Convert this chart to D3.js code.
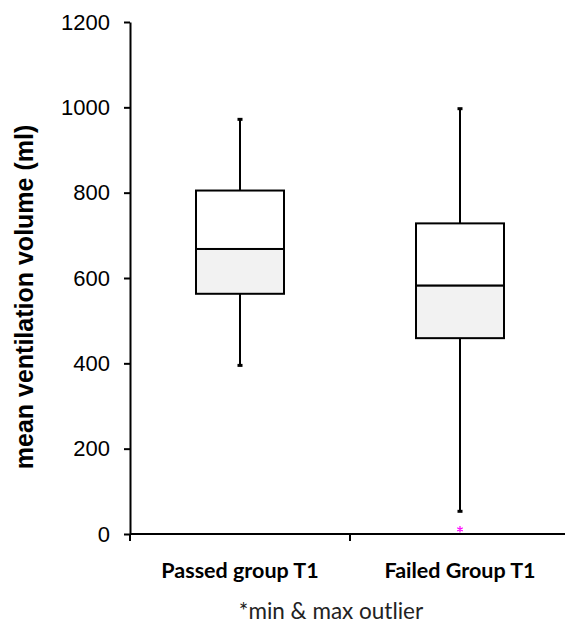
<!DOCTYPE html>
<html>
<head>
<meta charset="utf-8">
<style>
  * { margin: 0; padding: 0; }
  body { background: #fff; }
  svg { display: block; }
</style>
</head>
<body>
<div id="chart"></div>
<script src="https://cdn.jsdelivr.net/npm/d3@7"></script>
<script>
// box plot data
const groups = ['Passed group T1', 'Failed Group T1'];
const whiskerMin = [394, 52];
const q1 = [563, 459];
const median = [668, 582];
const q3 = [805, 728];
const whiskerMax = [973, 998];
const outliers = [[], [11]];
const yTicks = [0, 200, 400, 600, 800, 1000, 1200];

const width = 565, height = 624;
const x0 = 130, x1 = 570, yTop = 22, yBottom = 534;

const svg = d3.select('#chart').append('svg')
  .attr('width', width).attr('height', height);

const x = d3.scaleBand().domain(groups).range([x0, x1]).padding(0);
const y = d3.scaleLinear().domain([0, 1200]).range([yBottom, yTop]);

// y axis
const yAxis = svg.append('g').attr('transform', 'translate(' + x0 + ',0)')
  .call(d3.axisLeft(y).tickValues(yTicks).tickFormat(d3.format('d'))
    .tickSize(6).tickSizeOuter(0).tickPadding(14));
yAxis.select('.domain').attr('stroke', '#000').attr('stroke-width', 2);
yAxis.selectAll('.tick line').attr('stroke', '#000').attr('stroke-width', 2);
yAxis.selectAll('.tick text')
  .attr('font-family', '"Liberation Sans", Arial, sans-serif')
  .attr('font-size', 22).attr('fill', '#000');

// x axis: ticks on band boundaries
svg.append('line')
  .attr('x1', x0).attr('x2', x1).attr('y1', yBottom).attr('y2', yBottom)
  .attr('stroke', '#000').attr('stroke-width', 2);
const bounds = groups.map(g => x(g)).concat([x1]);
svg.append('g').selectAll('line').data(bounds).join('line')
  .attr('x1', d => d).attr('x2', d => d)
  .attr('y1', yBottom).attr('y2', yBottom + 7)
  .attr('stroke', '#000').attr('stroke-width', 2);

svg.append('g').selectAll('text').data(groups).join('text')
  .attr('x', d => x(d) + x.bandwidth() / 2)
  .attr('y', 578)
  .attr('text-anchor', 'middle')
  .attr('font-family', 'Lato, "Open Sans", sans-serif')
  .attr('font-weight', 'bold')
  .attr('font-size', 21.5)
  .attr('fill', '#000')
  .text(d => d);

// boxes
const boxW = x.bandwidth() * 0.4;
const boxes = svg.append('g').selectAll('g').data(groups).join('g')
  .attr('transform', d => 'translate(' + (x(d) + x.bandwidth() / 2) + ',0)');

boxes.append('line')
  .attr('y1', (d, i) => y(whiskerMax[i])).attr('y2', (d, i) => y(q3[i]))
  .attr('stroke', '#000').attr('stroke-width', 2);
boxes.append('line')
  .attr('y1', (d, i) => y(q1[i])).attr('y2', (d, i) => y(whiskerMin[i]))
  .attr('stroke', '#000').attr('stroke-width', 2);
boxes.append('rect')
  .attr('x', -2.5).attr('width', 5)
  .attr('y', (d, i) => y(whiskerMax[i]) - 1).attr('height', 3)
  .attr('fill', '#000');
boxes.append('rect')
  .attr('x', -2.5).attr('width', 5)
  .attr('y', (d, i) => y(whiskerMin[i]) - 2).attr('height', 3)
  .attr('fill', '#000');
boxes.append('rect')
  .attr('x', -boxW / 2).attr('width', boxW)
  .attr('y', (d, i) => y(q3[i])).attr('height', (d, i) => y(median[i]) - y(q3[i]))
  .attr('fill', '#fff').attr('stroke', '#000').attr('stroke-width', 2);
boxes.append('rect')
  .attr('x', -boxW / 2).attr('width', boxW)
  .attr('y', (d, i) => y(median[i])).attr('height', (d, i) => y(q1[i]) - y(median[i]))
  .attr('fill', '#f2f2f2').attr('stroke', '#000').attr('stroke-width', 2);

// outliers
boxes.each(function(d, i) {
  d3.select(this).selectAll('path.out').data(outliers[i]).join('path')
    .attr('class', 'out')
    .attr('transform', v => 'translate(0,' + y(v) + ')')
    .attr('d', d3.symbol(d3.symbolAsterisk, 28))
    .attr('stroke', '#ff00ff').attr('stroke-width', 1.2).attr('fill', 'none');
});

// y axis title
svg.append('text')
  .attr('transform', 'translate(33,297) rotate(-90)')
  .attr('text-anchor', 'middle')
  .attr('font-family', '"Liberation Sans", Arial, sans-serif')
  .attr('font-weight', 'bold')
  .attr('font-size', 25)
  .attr('fill', '#000')
  .text('mean ventilation volume (ml)');

// footnote
svg.append('text')
  .attr('x', 331).attr('y', 619)
  .attr('text-anchor', 'middle')
  .attr('font-family', 'Lato, "Open Sans", sans-serif')
  .attr('font-size', 22.5)
  .attr('fill', '#222')
  .text('*min & max outlier');
</script>
</body>
</html>
